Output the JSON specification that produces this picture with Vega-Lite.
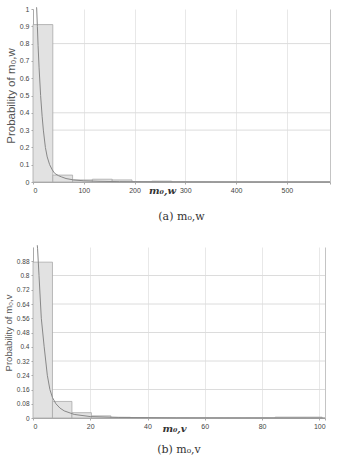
{
  "$schema": "https://vega.github.io/schema/vega-lite/v6.json",
  "padding": {"left": 3, "top": 5, "right": 5, "bottom": 0},
  "config": {
    "view": {"stroke": null},
    "axis": {"labelFontSize": 7, "labelColor": "#444", "labelFont": "Liberation Sans", "domainColor": "#aaa", "tickColor": "#aaa", "tickSize": 2, "labelPadding": 2, "titleFont": "Liberation Sans", "titleFontWeight": "normal", "titleColor": "#555", "titleFontSize": 11.5},
    "axisY": {"grid": false},
    "title": {"font": "DejaVu Serif", "fontWeight": "normal", "fontSize": 11, "color": "#333"}
  },
  "columns": 1,
  "align": "none",
  "spacing": 21,
  "datasets": {
    "topBars": [
      {"x": 0, "xe": 39, "p": 0.91},
      {"x": 39, "xe": 78, "p": 0.04},
      {"x": 78, "xe": 117, "p": 0.012},
      {"x": 117, "xe": 156, "p": 0.016},
      {"x": 156, "xe": 195, "p": 0.012},
      {"x": 195, "xe": 234, "p": 0.002},
      {"x": 234, "xe": 273, "p": 0.005},
      {"x": 273, "xe": 312, "p": 0.001},
      {"x": 312, "xe": 351, "p": 0.001},
      {"x": 351, "xe": 390, "p": 0.0005},
      {"x": 390, "xe": 429, "p": 0.0005},
      {"x": 429, "xe": 468, "p": 0.0005},
      {"x": 468, "xe": 507, "p": 0.0005},
      {"x": 507, "xe": 546, "p": 0.0005},
      {"x": 546, "xe": 585, "p": 0.0005}
    ],
    "topCurve": [
      {"x": 7.0, "p": 1.01}, {"x": 7.3, "p": 1.0}, {"x": 8.6, "p": 0.9}, {"x": 10, "p": 0.79},
      {"x": 12, "p": 0.66}, {"x": 15, "p": 0.5}, {"x": 18, "p": 0.38}, {"x": 20.4, "p": 0.3},
      {"x": 24.4, "p": 0.2}, {"x": 28, "p": 0.145}, {"x": 32.8, "p": 0.1}, {"x": 38, "p": 0.07},
      {"x": 42.7, "p": 0.05}, {"x": 50, "p": 0.037}, {"x": 55.7, "p": 0.03}, {"x": 65, "p": 0.02},
      {"x": 80, "p": 0.012}, {"x": 100, "p": 0.007}, {"x": 130, "p": 0.004}, {"x": 170, "p": 0.002},
      {"x": 250, "p": 0.001}, {"x": 400, "p": 0.0005}, {"x": 585, "p": 0.0003}
    ],
    "topGrid": [{"g": 0.3}, {"g": 0.4}, {"g": 0.8}],
    "botBars": [
      {"x": 0, "xe": 6.8, "p": 0.875},
      {"x": 6.8, "xe": 13.6, "p": 0.093},
      {"x": 13.6, "xe": 20.4, "p": 0.03},
      {"x": 20.4, "xe": 27.2, "p": 0.012},
      {"x": 27.2, "xe": 34, "p": 0.004},
      {"x": 34, "xe": 40.8, "p": 0.002},
      {"x": 40.8, "xe": 47.6, "p": 0.001},
      {"x": 47.6, "xe": 54.4, "p": 0.0008},
      {"x": 54.4, "xe": 61.2, "p": 0.0006},
      {"x": 61.2, "xe": 68, "p": 0.0005},
      {"x": 68, "xe": 74.8, "p": 0.0005},
      {"x": 74.8, "xe": 84.6, "p": 0.0005},
      {"x": 84.6, "xe": 101, "p": 0.005}
    ],
    "botCurve": [
      {"x": 1.5, "p": 0.97}, {"x": 1.6, "p": 0.95}, {"x": 2.1, "p": 0.8}, {"x": 2.9, "p": 0.56},
      {"x": 3.9, "p": 0.4}, {"x": 5.0, "p": 0.24}, {"x": 5.9, "p": 0.16}, {"x": 6.8, "p": 0.115},
      {"x": 8, "p": 0.08}, {"x": 9.4, "p": 0.056}, {"x": 10.9, "p": 0.04}, {"x": 14.4, "p": 0.02},
      {"x": 20, "p": 0.008}, {"x": 30, "p": 0.003}, {"x": 50, "p": 0.001}, {"x": 102, "p": 0.0003}
    ],
    "botGrid": [{"g": 0.16}, {"g": 0.32}, {"g": 0.48}, {"g": 0.64}, {"g": 0.8}]
  },
  "concat": [
    {
      "width": 297,
      "height": 173,
      "title": {"text": "(a)  m₀,w", "orient": "bottom", "offset": 16},
      "encoding": {
        "x": {"field": "x", "type": "quantitative", "scale": {"domain": [0, 585], "nice": false},
          "axis": {"values": [0, 100, 200, 300, 400, 500, 585], "labelExpr": "datum.value > 550 ? '' : '' + datum.value", "grid": true,
            "gridColor": {"condition": {"test": "datum.value > 550", "value": "#c4c4c4"}, "value": "#e8e8e8"},
            "title": "m₀,w", "titleFont": "DejaVu Serif", "titleFontStyle": "italic", "titleFontWeight": "bold", "titleFontSize": 10, "titleColor": "#333", "titleX": 129, "titleY": 8, "titleBaseline": "middle", "titleAnchor": "middle"}},
        "y": {"field": "p", "type": "quantitative", "scale": {"domain": [0, 1], "nice": false, "zero": true},
          "axis": {"values": [0, 0.1, 0.2, 0.3, 0.4, 0.5, 0.6, 0.7, 0.8, 0.9, 1], "labelExpr": "'' + datum.value", "grid": false,
            "title": "Probability of m₀,w", "titlePadding": 3}}
      },
      "layer": [
        {
          "data": {"name": "topGrid"},
          "mark": {"type": "rule", "color": "#dcdcdc", "strokeWidth": 1},
          "encoding": {"y": {"field": "g", "type": "quantitative"}, "x": null}
        },
        {
          "data": {"name": "topBars"},
          "mark": {"type": "bar", "fill": "#e2e2e2", "stroke": "#a8a8a8", "strokeWidth": 0.8},
          "encoding": {"x2": {"field": "xe"}, "y2": {"datum": 0}}
        },
        {
          "data": {"name": "topCurve"},
          "mark": {"type": "line", "color": "#888", "strokeWidth": 1, "clip": false},
          "encoding": {}
        }
      ]
    },
    {
      "width": 292,
      "height": 171,
      "title": {"text": "(b)  m₀,v", "orient": "bottom", "offset": 11},
      "encoding": {
        "x": {"field": "x", "type": "quantitative", "scale": {"domain": [0, 102], "nice": false},
          "axis": {"values": [0, 20, 40, 60, 80, 100, 102], "labelExpr": "datum.value > 101 ? '' : '' + datum.value", "grid": true,
            "gridColor": {"condition": {"test": "datum.value > 101", "value": "#c4c4c4"}, "value": "#e8e8e8"},
            "title": "m₀,v", "titleFont": "DejaVu Serif", "titleFontStyle": "italic", "titleFontWeight": "bold", "titleFontSize": 10, "titleColor": "#333", "titleX": 141, "titleY": 10, "titleBaseline": "middle", "titleAnchor": "middle"}},
        "y": {"field": "p", "type": "quantitative", "scale": {"domain": [0, 0.96], "nice": false, "zero": true},
          "axis": {"values": [0, 0.08, 0.16, 0.24, 0.32, 0.4, 0.48, 0.56, 0.64, 0.72, 0.8, 0.88], "labelExpr": "'' + datum.value", "labelFontSize": 6.5, "grid": false,
            "title": "Probability of m₀,v", "titleFontSize": 9.5, "titlePadding": 3}}
      },
      "layer": [
        {
          "data": {"name": "botGrid"},
          "mark": {"type": "rule", "color": "#dcdcdc", "strokeWidth": 1},
          "encoding": {"y": {"field": "g", "type": "quantitative"}, "x": null}
        },
        {
          "data": {"name": "botBars"},
          "mark": {"type": "bar", "fill": "#e2e2e2", "stroke": "#a8a8a8", "strokeWidth": 0.8},
          "encoding": {"x2": {"field": "xe"}, "y2": {"datum": 0}}
        },
        {
          "data": {"name": "botCurve"},
          "mark": {"type": "line", "color": "#888", "strokeWidth": 1, "clip": false},
          "encoding": {}
        }
      ]
    }
  ]
}
